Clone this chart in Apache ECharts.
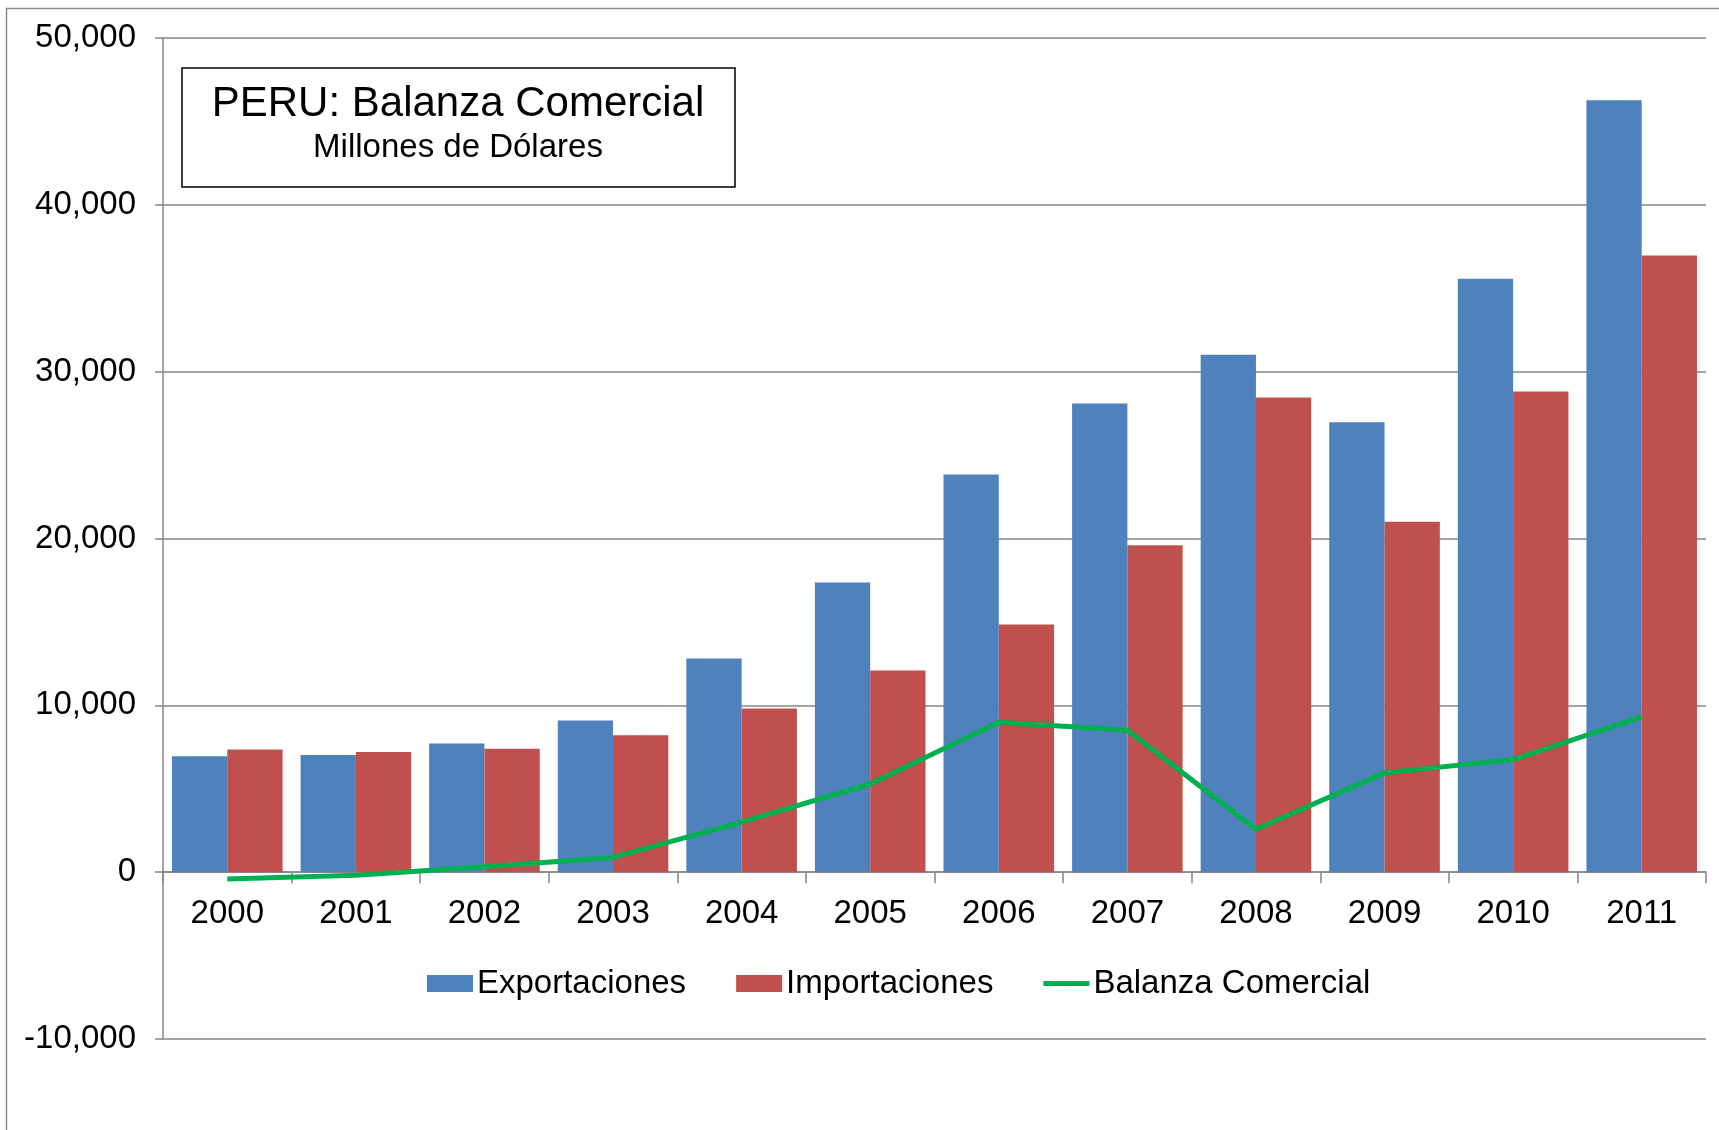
<!DOCTYPE html>
<html>
<head>
<meta charset="utf-8">
<script src="https://cdn.jsdelivr.net/npm/echarts@6/dist/echarts.min.js"></script>
<style>
html,body{margin:0;padding:0;background:#fff;}
#c{width:1719px;height:1130px;}
</style>
</head>
<body>
<div id="c"></div>
<script>
const years = ['2000','2001','2002','2003','2004','2005','2006','2007','2008','2009','2010','2011'];
const exportaciones = [6955, 7026, 7714, 9091, 12809, 17368, 23830, 28094, 31018, 26962, 35565, 46268];
const importaciones = [7358, 7204, 7393, 8205, 9805, 12082, 14844, 19591, 28449, 21011, 28815, 36967];
const balanza = [-403, -178, 321, 886, 3004, 5286, 8986, 8503, 2569, 5951, 6750, 9302];
const seriesNames = ['Exportaciones', 'Importaciones', 'Balanza Comercial'];
const titleText = 'PERU: Balanza Comercial';
const subtitleText = 'Millones de Dólares';
const yMin = -10000, yMax = 50000, yStep = 10000;

const FONT = "'Liberation Sans', Arial, Helvetica, sans-serif";
const fmt = v => String(v).replace(/\B(?=(\d{3})+(?!\d))/g, ',');

const G_TOP = 38, G_BOTTOM = 91, H = 1130;
const gridH = H - G_TOP - G_BOTTOM;
const zeroOffset = -gridH * (0 - yMin) / (yMax - yMin);

const chart = echarts.init(document.getElementById('c'));
chart.setOption({
  animation: false,
  backgroundColor: '#fff',
  textStyle: { fontFamily: FONT, color: '#000' },
  grid: { left: 163, right: 13, top: G_TOP, bottom: G_BOTTOM, containLabel: false },
  legend: {
    left: 422, top: 962,
    itemWidth: 46, itemHeight: 17, itemGap: 50,
    textStyle: { fontFamily: FONT, fontSize: 33, color: '#000', padding: [0,0,0,-1] },
    data: [
      { name: seriesNames[0], icon: 'rect' },
      { name: seriesNames[1], icon: 'rect' },
      { name: seriesNames[2], icon: 'path://M0,0 H46 V5 H0 Z' }
    ]
  },
  xAxis: {
    type: 'category',
    data: years,
    position: 'bottom',
    offset: zeroOffset,
    axisLine: { onZero: false, lineStyle: { color: '#868686', width: 1.5 } },
    axisTick: { show: true, length: 11, lineStyle: { color: '#868686', width: 1.5 } },
    axisLabel: { fontFamily: FONT, fontSize: 33, color: '#000', margin: 25 },
    splitLine: { show: false }
  },
  yAxis: {
    type: 'value',
    min: yMin, max: yMax, interval: yStep,
    axisLine: { show: true, lineStyle: { color: '#868686', width: 1.5 } },
    axisTick: { show: true, length: 8, lineStyle: { color: '#868686', width: 1.5 } },
    axisLabel: { fontFamily: FONT, fontSize: 33, color: '#000', margin: 27, padding: [4,0,0,0], formatter: v => fmt(v) },
    splitLine: { show: true, lineStyle: { color: '#868686', width: 1.5 } }
  },
  series: [
    { name: seriesNames[0], type: 'bar', data: exportaciones, barWidth: '43%', barGap: '0%',
      itemStyle: { color: '#4F81BD' } },
    { name: seriesNames[1], type: 'bar', data: importaciones, barWidth: '43%', barGap: '0%',
      itemStyle: { color: '#C0504D' } },
    { name: seriesNames[2], type: 'line', data: balanza, symbol: 'none', z: 5,
      itemStyle: { color: '#00B050' }, lineStyle: { color: '#00B050', width: 5 } }
  ],
  graphic: [
    { type: 'rect', z: 100, silent: true,
      shape: { x: 6.5, y: 8.5, width: 1800, height: 1300 },
      style: { fill: 'none', stroke: '#8c8c8c', lineWidth: 1.5 } },
    { type: 'rect', z: 100,
      shape: { x: 182, y: 68, width: 553, height: 119 },
      style: { fill: '#fff', stroke: '#000', lineWidth: 1.5 } },
    { type: 'text', z: 101, x: 458, y: 104,
      style: { text: titleText, fontFamily: FONT, fontSize: 42, fill: '#000', align: 'center', verticalAlign: 'middle' } },
    { type: 'text', z: 101, x: 458, y: 148,
      style: { text: subtitleText, fontFamily: FONT, fontSize: 33, fill: '#000', align: 'center', verticalAlign: 'middle' } }
  ]
});
</script>
</body>
</html>
